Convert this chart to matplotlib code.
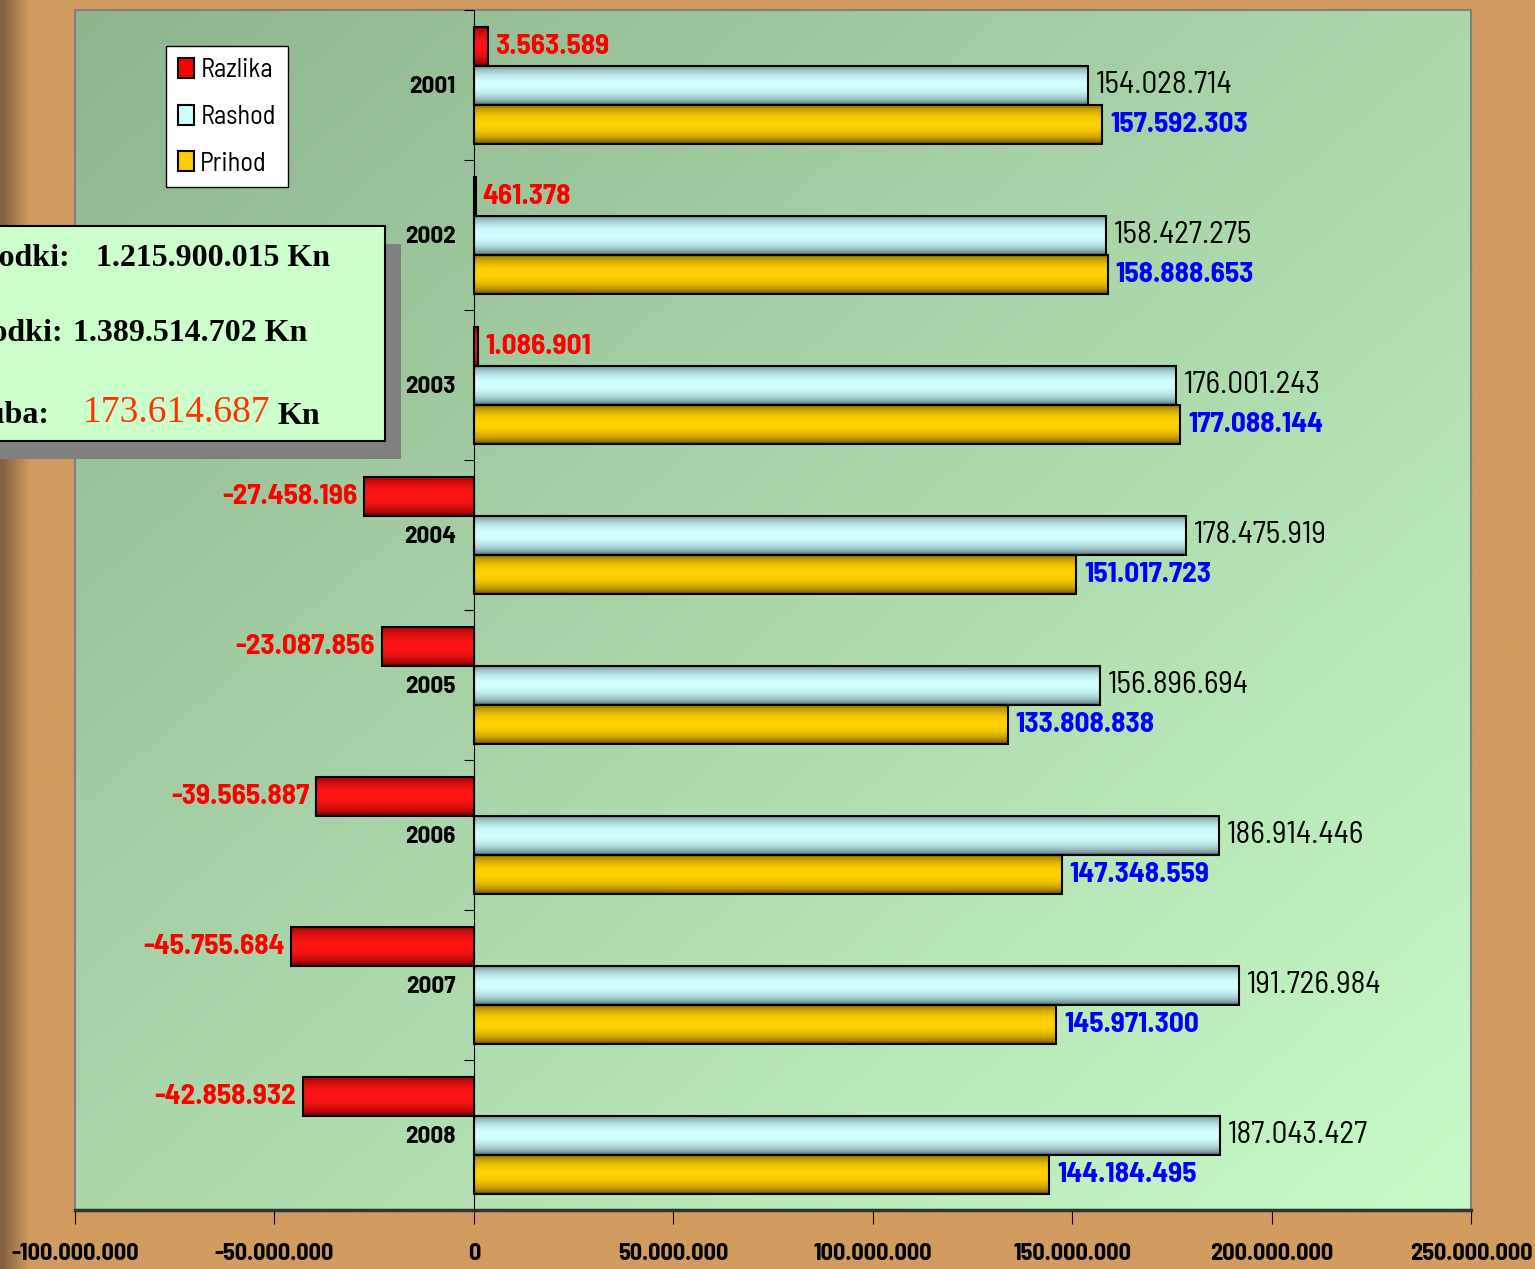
import numpy as np
import matplotlib
matplotlib.use("Agg")
import matplotlib.pyplot as plt
from matplotlib.patches import Rectangle
from matplotlib.ticker import FuncFormatter

years = ["2001", "2002", "2003", "2004", "2005", "2006", "2007", "2008"]
prihod = [157592303, 158888653, 177088144, 151017723, 133808838, 147348559, 145971300, 144184495]
rashod = [154028714, 158427275, 176001243, 178475919, 156896694, 186914446, 191726984, 187043427]
razlika = [3563589, 461378, 1086901, -27458196, -23087856, -39565887, -45755684, -42858932]
xticks = [-100e6, -50e6, 0, 50e6, 100e6, 150e6, 200e6, 250e6]
summary = [("Prihodki:", "1.215.900.015"), ("Rashodki:", "1.389.514.702"), ("Izguba:", "173.614.687")]

W, H = 1535, 1269
NARROW = "Barlow Semi Condensed"
SERIF = ["Liberation Serif", "DejaVu Serif"]


def dots(v):
    s = f"{abs(int(round(v))):,}".replace(",", ".")
    return ("-" if v < 0 else "") + s


def px(x, y):
    return x / W, 1 - y / H


def shade(ax, bar, light, dark):
    # cylinder look: dark edges, bright middle
    t = np.linspace(0, 1, 64)
    f = np.sin(np.pi * t) ** 0.6
    light, dark = np.array(light) / 255, np.array(dark) / 255
    img = (dark[None, :] + (light - dark)[None, :] * f[:, None])[:, None, :]
    x0, y0 = bar.get_x(), bar.get_y()
    w, h = bar.get_width(), bar.get_height()
    im = ax.imshow(img, extent=(x0, x0 + w, y0 + h, y0), aspect="auto",
                   interpolation="bilinear", zorder=2, origin="upper")
    im.set_clip_path(bar)


fig = plt.figure(figsize=(W / 100, H / 100), dpi=100)
fig.patch.set_facecolor("#d29b5f")

# left darker strip of the page background
bg = fig.add_axes([0, 0, 1, 1], zorder=-5)
bg.axis("off")
xs = np.linspace(0, 1, 400)
shadow = np.clip(1 - xs * W / 28, 0, 1)
base = np.array([210, 155, 95]) / 255
dark = np.array([130, 95, 65]) / 255
strip = base[None, :] * (1 - shadow[:, None]) + dark[None, :] * shadow[:, None]
bg.imshow(strip[None, :, :], extent=(0, 1, 0, 1), aspect="auto", interpolation="bilinear")
bg.set_xlim(0, 1); bg.set_ylim(0, 1)

ax = fig.add_axes([75 / W, 59 / H, 1396 / W, 1200 / H])

# plot-area gradient (darker green top-left -> light green bottom-right)
gx, gy = np.meshgrid(np.linspace(0, 1, 200), np.linspace(0, 1, 200))
g = np.clip((gx + gy) / 2, 0, 1)
c0 = np.array([143, 181, 143]) / 255
c1 = np.array([200, 250, 200]) / 255
grad = c0[None, None, :] * (1 - g[..., None]) + c1[None, None, :] * g[..., None]
ax.imshow(grad, extent=(0, 1, 0, 1), transform=ax.transAxes, aspect="auto",
          interpolation="bilinear", zorder=0, origin="upper")

n = len(years)
pos = np.arange(n)
h = 0.26
b_raz = ax.barh(pos - h, razlika, height=h, color="#ff0000", edgecolor="black", lw=1.5, zorder=3)
b_ras = ax.barh(pos, rashod, height=h, color="#ccffff", edgecolor="black", lw=1.5, zorder=3)
b_pri = ax.barh(pos + h, prihod, height=h, color="#ffcc00", edgecolor="black", lw=1.5, zorder=3)
for bars, light, dk in [(b_raz, (255, 20, 20), (120, 0, 0)),
                        (b_ras, (210, 255, 255), (85, 115, 120)),
                        (b_pri, (255, 210, 0), (115, 85, 0))]:
    for b in bars:
        b.set_facecolor("none")
        shade(ax, b, light, dk)

ax.set_xlim(-100e6, 250e6)
ax.set_ylim(n - 0.5, -0.5)

# data labels
for i in range(n):
    v = razlika[i]
    ax.annotate(dots(v), (v, i - h), xytext=(7 if v >= 0 else -7, 0), textcoords="offset pixels",
                ha="left" if v >= 0 else "right", va="center", color="#ff0000",
                fontsize=21, fontweight="bold", family=NARROW, zorder=5)
    ax.annotate(dots(rashod[i]), (rashod[i], i), xytext=(8, 0), textcoords="offset pixels",
                ha="left", va="center", color="black", fontsize=22.5, family=NARROW, zorder=5)
    ax.annotate(dots(prihod[i]), (prihod[i], i + h), xytext=(8, 0), textcoords="offset pixels",
                ha="left", va="center", color="#0000ff", fontsize=21, fontweight="bold",
                family=NARROW, zorder=5)
    ax.annotate(years[i], (0, i), xytext=(-18, -2), textcoords="offset pixels", ha="right",
                va="center", fontsize=18, fontweight="bold", family=NARROW, zorder=5)

# axes styling
ax.spines["left"].set_position(("data", 0))
ax.spines["left"].set_color("black")
ax.spines["left"].set_zorder(4)
for s in ["top", "right"]:
    ax.spines[s].set_visible(False)
ax.spines["bottom"].set_color("#333333")
ax.spines["bottom"].set_linewidth(2.5)
ax.add_patch(Rectangle((0, 0), 1, 1, transform=ax.transAxes, fill=False,
                       edgecolor="#808080", lw=1.5, zorder=1, clip_on=False))
ax.set_yticks(np.arange(-0.5, n, 1))
ax.set_yticklabels([])
ax.tick_params(axis="y", direction="out", length=7, color="black")
ax.set_xticks(xticks)
ax.xaxis.set_major_formatter(FuncFormatter(lambda v, p: dots(v)))
ax.tick_params(axis="x", direction="out", length=10, pad=14, color="black")
for lab in ax.get_xticklabels():
    lab.set_fontsize(17.5); lab.set_fontweight("bold"); lab.set_family(NARROW)

leg = ax.legend([b_raz, b_ras, b_pri], ["Razlika", "Rashod", "Prihod"],
                loc="upper left", bbox_to_anchor=px(166, 46), bbox_transform=fig.transFigure,
                borderaxespad=0, fancybox=False, framealpha=1, edgecolor="black",
                handlelength=0.6, handleheight=0.8, handletextpad=0.25, labelspacing=0.85,
                borderpad=0.45, prop={"family": NARROW, "size": 19})
leg.get_frame().set_linewidth(1)
for hnd, col in zip(leg.legend_handles, ["#ff0000", "#ccffff", "#ffcc00"]):
    hnd.set_facecolor(col); hnd.set_edgecolor("black")
leg.set_zorder(6)

# summary box (cut off by the left page edge, as in the original)
fig.add_artist(Rectangle(px(-20, 459), 421 / W, 215 / H, transform=fig.transFigure,
                         facecolor="#808080", edgecolor="none", zorder=7))
fig.add_artist(Rectangle(px(-20, 441), 405 / W, 215 / H, transform=fig.transFigure,
                         facecolor="#ccffcc", edgecolor="black", lw=1.5, zorder=8))
rows = [(258, 70, 96), (334, 63, 73), (416, 50, 83)]
for (label, val), (y, lx, vx) in zip(summary, rows):
    fig.text(*px(lx, y), label, ha="right", va="center", fontsize=23, fontweight="bold",
             family=SERIF, zorder=9)
    if label == "Izguba:":
        fig.text(*px(vx, y - 3), val, ha="left", va="center", fontsize=27,
                 family=SERIF, color="#ff3300", zorder=9)
        fig.text(*px(278, y), "Kn", ha="left", va="center", fontsize=23, fontweight="bold",
                 family=SERIF, zorder=9)
    else:
        fig.text(*px(vx, y), val + " Kn", ha="left", va="center", fontsize=23,
                 fontweight="bold", family=SERIF, zorder=9)

fig.savefig("out.png", dpi=100, facecolor=fig.get_facecolor())
